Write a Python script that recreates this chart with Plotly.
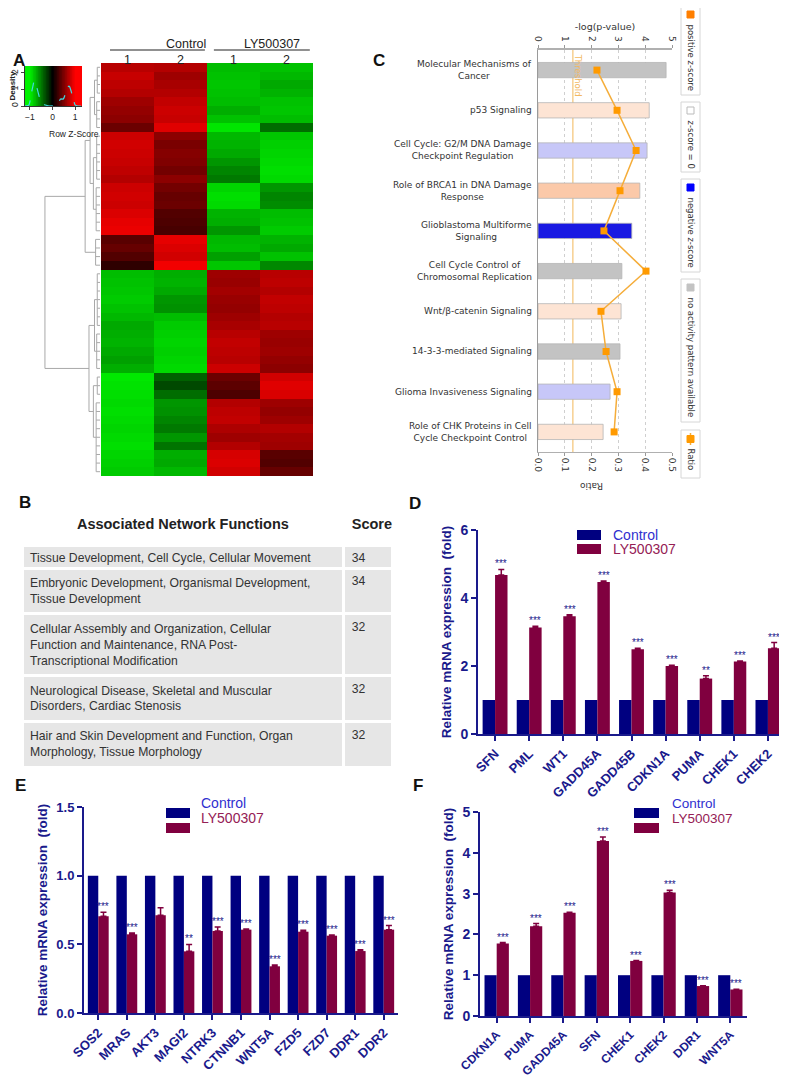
import numpy as np
import plotly.graph_objects as go

# The page body has an 8px default margin: size the figure so that it fills the window exactly
W, H = 787, 1077
OFF = 8
FW, FH = W - OFF, H - OFF
def fx(p): return (p - OFF) / FW
def fy(p): return 1 - (p - OFF) / FH

ARIAL = "Liberation Sans, Arial, sans-serif"
TAHOMA = "DejaVu Sans, Verdana, sans-serif"
NAVY = "#1a1a8c"
CTRL_C = "#000080"
LY_C = "#80003f"

# ---------------- Panel A data ----------------
sample_groups = ["Control", "LY500307"]
sample_labels = ["1", "2", "1", "2"]
heat_rows = [
    [0.72, 0.70, -0.78, -0.80], [0.78, 0.62, -0.80, -0.76], [0.74, 0.66, -0.82, -0.70],
    [0.70, 0.70, -0.80, -0.74], [0.62, 0.76, -0.78, -0.80], [0.58, 0.80, -0.72, -0.82],
    [0.55, 0.78, -0.80, -0.78], [0.42, 0.88, -0.95, -0.45], [0.80, 0.55, -0.76, -0.82],
    [0.82, 0.48, -0.74, -0.86], [0.80, 0.52, -0.70, -0.88], [0.78, 0.50, -0.62, -0.90],
    [0.75, 0.45, -0.55, -0.92], [0.70, 0.55, -0.50, -0.90], [0.80, 0.45, -0.88, -0.62],
    [0.82, 0.40, -0.92, -0.55], [0.80, 0.42, -0.90, -0.58], [0.86, 0.32, -0.74, -0.78],
    [0.90, 0.30, -0.72, -0.80], [0.92, 0.28, -0.62, -0.84], [0.35, 0.90, -0.76, -0.74],
    [0.40, 0.86, -0.78, -0.70], [0.32, 0.82, -0.66, -0.80], [0.18, 0.95, -0.82, -0.56],
    [-0.78, -0.72, 0.62, 0.72], [-0.80, -0.74, 0.60, 0.74], [-0.82, -0.70, 0.64, 0.70],
    [-0.84, -0.62, 0.60, 0.76], [-0.80, -0.60, 0.58, 0.74], [-0.76, -0.78, 0.62, 0.70],
    [-0.70, -0.84, 0.66, 0.72], [-0.72, -0.86, 0.72, 0.62], [-0.74, -0.88, 0.76, 0.60],
    [-0.70, -0.86, 0.74, 0.62], [-0.66, -0.88, 0.72, 0.58], [-0.72, -0.90, 0.80, 0.55],
    [-0.96, -0.40, 0.42, 0.82], [-0.94, -0.30, 0.36, 0.88], [-0.92, -0.45, 0.30, 0.85],
    [-0.90, -0.62, 0.70, 0.62], [-0.92, -0.60, 0.74, 0.58], [-0.90, -0.55, 0.76, 0.62],
    [-0.88, -0.50, 0.68, 0.70], [-0.90, -0.62, 0.62, 0.64], [-0.92, -0.48, 0.70, 0.62],
    [-0.88, -0.72, 0.84, 0.35], [-0.86, -0.70, 0.86, 0.32], [-0.84, -0.76, 0.82, 0.40],
]
# dendrogram tree: (merge height, children); ints are row indices
dendro_tree = (1.0, [
    (0.27, [
        (0.18, [(0.10, [(0.05, [0, 1, 2, 3]), (0.06, [4, 5, 6, 7])]),
                (0.12, [(0.06, [8, 9, 10, 11, 12, 13]), (0.07, [14, 15, 16, 17, 18, 19])])]),
        (0.08, [20, 21, 22, 23])]),
    (0.20, [
        (0.10, [(0.05, [24, 25, 26, 27, 28, 29, 30]), (0.06, [31, 32, 33, 34, 35])]),
        (0.12, [(0.05, [36, 37, 38]), (0.07, [39, 40, 41, 42, 43, 44, 45, 46, 47])])]),
])

# ---------------- Panel B data ----------------
network_functions = [
    "Tissue Development, Cell Cycle, Cellular Movement",
    "Embryonic Development, Organismal Development,\nTissue Development",
    "Cellular Assembly and Organization, Cellular\nFunction and Maintenance, RNA Post-\nTranscriptional Modification",
    "Neurological Disease, Skeletal and Muscular\nDisorders, Cardiac Stenosis",
    "Hair and Skin Development and Function, Organ\nMorphology, Tissue Morphology",
]
network_scores = [34, 34, 32, 32, 32]

# ---------------- Panel C data ----------------
pathways = [
    "Molecular Mechanisms of\nCancer", "p53 Signaling",
    "Cell Cycle: G2/M DNA Damage\nCheckpoint Regulation",
    "Role of BRCA1 in DNA Damage\nResponse", "Glioblastoma Multiforme\nSignaling",
    "Cell Cycle Control of\nChromosomal Replication", "Wnt/β-catenin Signaling",
    "14-3-3-mediated Signaling", "Glioma Invasiveness Signaling",
    "Role of CHK Proteins in Cell\nCycle Checkpoint Control",
]
neglogp = [4.78, 4.15, 4.07, 3.80, 3.50, 3.13, 3.10, 3.06, 2.69, 2.43]
ratio = [0.220, 0.295, 0.366, 0.306, 0.246, 0.403, 0.235, 0.254, 0.295, 0.284]
zscore = [None, 0.5, -0.6, 1.0, -2.45, None, 0.5, None, -0.6, 0.5]
threshold = 1.3

# ---------------- Panel D/E/F data ----------------
legend_names = ["Control", "LY500307"]
genes_d = ["SFN", "PML", "WT1", "GADD45A", "GADD45B", "CDKN1A", "PUMA", "CHEK1", "CHEK2"]
ctrl_d = [1.0] * 9
ly_d = [4.68, 3.13, 3.46, 4.47, 2.49, 2.00, 1.63, 2.13, 2.52]
err_d = [0.16, 0.04, 0.05, 0.03, 0.03, 0.02, 0.08, 0.02, 0.17]
sig_d = ["***", "***", "***", "***", "***", "***", "**", "***", "***"]

genes_e = ["SOS2", "MRAS", "AKT3", "MAGI2", "NTRK3", "CTNNB1", "WNT5A", "FZD5", "FZD7", "DDR1", "DDR2"]
ctrl_e = [1.0] * 11
ly_e = [0.704, 0.573, 0.711, 0.449, 0.597, 0.607, 0.340, 0.592, 0.563, 0.451, 0.607]
err_e = [0.03, 0.01, 0.055, 0.05, 0.03, 0.005, 0.01, 0.01, 0.005, 0.01, 0.03]
sig_e = ["***", "***", "", "**", "***", "***", "***", "***", "***", "***", "***"]

genes_f = ["CDKN1A", "PUMA", "GADD45A", "SFN", "CHEK1", "CHEK2", "DDR1", "WNT5A"]
ctrl_f = [1.0] * 8
ly_f = [1.78, 2.20, 2.53, 4.29, 1.35, 3.03, 0.734, 0.65]
err_f = [0.02, 0.065, 0.01, 0.10, 0.01, 0.05, 0.01, 0.005]
sig_f = ["***"] * 8

# =====================================================================
fig = go.Figure()
annotations = []
shapes = []

# ---- heatmap
cscale = [[0, "#00f200"], [0.5, "#000000"], [1, "#ff0000"]]
fig.add_trace(go.Heatmap(z=heat_rows, x=list(range(4)), y=list(range(len(heat_rows))),
                         colorscale=cscale, zmin=-1, zmax=1, showscale=False,
                         xaxis="x", yaxis="y", hoverinfo="skip"))

# ---- dendrogram
dx, dy = [], []
def walk(node):
    if isinstance(node, int):
        return float(node), 0.0
    h, kids = node
    pts = [walk(k) for k in kids]
    for p, ch in pts:
        dx.extend([ch, h, None]); dy.extend([p, p, None])
    ps = [p for p, _ in pts]
    dx.extend([h, h, None]); dy.extend([min(ps), max(ps), None])
    return sum(ps) / len(ps), h
walk(dendro_tree)
fig.add_trace(go.Scatter(x=dx, y=dy, mode="lines", line=dict(color="#a8a8a8", width=1),
                         xaxis="x2", yaxis="y2", showlegend=False, hoverinfo="skip"))

# ---- color key
key_x = list(np.linspace(-1.22, 1.31, 80))
fig.add_trace(go.Heatmap(z=[key_x, key_x], x=key_x, y=[0.605, 1.815], colorscale=cscale,
                         zmin=-1, zmax=1, showscale=False, xaxis="x3", yaxis="y3", hoverinfo="skip"))
vals = np.array(heat_rows).ravel()
g = np.array(key_x)
bw = 0.06
dens = np.exp(-0.5 * ((g[:, None] - vals[None, :]) / bw) ** 2).sum(1) / (len(vals) * bw * np.sqrt(2 * np.pi))
fig.add_trace(go.Scatter(x=key_x, y=dens, mode="lines", line=dict(color="#40d8e0", width=1.2, dash="dash"),
                         xaxis="x3", yaxis="y3", showlegend=False, hoverinfo="skip"))

# ---- panel B table
fig.add_trace(go.Table(
    domain=dict(x=[fx(22), fx(392)], y=[fy(766), fy(508)]),
    columnwidth=[320, 48],
    header=dict(values=["<b>Associated Network Functions</b>", "<b>Score</b>"],
                fill_color="white", line=dict(color="white", width=0),
                align=["center", "left"], height=37,
                font=dict(family=ARIAL, size=14.5, color="#222")),
    cells=dict(values=[[s.replace("\n", "<br>") for s in network_functions], network_scores],
               fill_color="#e6e6e6", line=dict(color="white", width=3),
               align="left", height=23,
               font=dict(family=ARIAL, size=12.2, color="#333")),
))

# ---- panel C
def zcolor(z):
    if z is None:
        return "#c3c3c3"
    t = min(abs(z) / 2.5, 1.0)
    base = (245, 120, 40) if z > 0 else (20, 20, 225)
    c = [round(255 * (1 - t) + b * t) for b in base]
    return "rgb(%d,%d,%d)" % tuple(c)

cidx = list(range(len(pathways)))
fig.add_trace(go.Bar(x=neglogp, y=cidx, orientation="h", width=0.38,
                     marker=dict(color=[zcolor(z) for z in zscore], line=dict(color="#b5b5b5", width=0.8)),
                     xaxis="x4", yaxis="y4", showlegend=False, hoverinfo="skip"))
fig.add_trace(go.Scatter(x=ratio, y=cidx, mode="lines+markers",
                         line=dict(color="#f5ad3a", width=1.5),
                         marker=dict(symbol="square", size=7, color="#ff9a00"),
                         xaxis="x5", yaxis="y4", showlegend=False, hoverinfo="skip"))
for i, p in enumerate(pathways):
    annotations.append(dict(x=fx(534), xref="paper", y=i, yref="y4", xanchor="right", align="center",
                            text=p.replace("\n", "<br>"), showarrow=False,
                            font=dict(family=TAHOMA, size=9, color="#333")))
shapes.append(dict(type="line", xref="x4", yref="y4 domain", x0=threshold, x1=threshold, y0=0, y1=1,
                   line=dict(color="#f7cf90", width=1.5), layer="below"))
annotations.append(dict(x=threshold, xref="x4", xshift=5, y=fy(52), yref="paper", yanchor="top",
                        text="Threshold", textangle=90, showarrow=False,
                        font=dict(family=TAHOMA, size=8.5, color="#f2b860")))
annotations.append(dict(x=fx(605), y=fy(486), xref="paper", yref="paper", text="Ratio", textangle=180,
                        showarrow=False, font=dict(family=TAHOMA, size=9, color="#333")))
# C legend boxes
leg_items = [(6, 95, "#ff7f00", "positive z-score"), (102, 172, "#ffffff", "z-score = 0"),
             (179, 272, "#0000ff", "negative z-score"), (279, 422, "#c3c3c3", "no activity pattern available"),
             (430, 478, None, "Ratio")]
for y0, y1, col, txt in leg_items:
    shapes.append(dict(type="rect", xref="paper", yref="paper", x0=fx(681), x1=fx(700), y0=fy(y1), y1=fy(y0),
                       line=dict(color="#d6d6d6", width=1), fillcolor="white"))
    if col is not None:
        shapes.append(dict(type="rect", xref="paper", yref="paper", x0=fx(687), x1=fx(694), y0=fy(y0 + 12),
                           y1=fy(y0 + 5), line=dict(color="#bbbbbb" if col == "#ffffff" else col, width=1),
                           fillcolor=col))
    else:
        shapes.append(dict(type="line", xref="paper", yref="paper", x0=fx(690.5), x1=fx(690.5), y0=fy(y0 + 15),
                           y1=fy(y0 + 3), line=dict(color="#f5ad3a", width=1.5)))
        shapes.append(dict(type="rect", xref="paper", yref="paper", x0=fx(687), x1=fx(694), y0=fy(y0 + 12.5),
                           y1=fy(y0 + 5.5), line=dict(color="#ff9a00", width=1), fillcolor="#ff9a00"))
    annotations.append(dict(x=fx(690.5), y=fy(y0 + 16), xref="paper", yref="paper", yanchor="top",
                            xanchor="center", text=txt, textangle=90, showarrow=False,
                            font=dict(family=TAHOMA, size=8.5, color="#333")))

# ---- panels D/E/F
BARGAP = 0.27
panels = [
    ("x6", "y6", genes_d, ctrl_d, ly_d, err_d, sig_d),
    ("x7", "y7", genes_e, ctrl_e, ly_e, err_e, sig_e),
    ("x8", "y8", genes_f, ctrl_f, ly_f, err_f, sig_f),
]
for xa, ya, genes, ctrl, ly, err, sig in panels:
    fig.add_trace(go.Bar(x=genes, y=ctrl, name=legend_names[0],
                         marker=dict(color=CTRL_C, line=dict(width=0)), xaxis=xa, yaxis=ya,
                         showlegend=False, hoverinfo="skip"))
    fig.add_trace(go.Bar(x=genes, y=ly, name=legend_names[1],
                         marker=dict(color=LY_C, line=dict(width=0)), xaxis=xa, yaxis=ya,
                         showlegend=False,
                         error_y=dict(type="data", array=err, arrayminus=[0] * len(err), symmetric=False,
                                      color=LY_C, thickness=1.5, width=3),
                         hoverinfo="skip"))

dom = {"x6": (478, 785), "x7": (84, 398), "x8": (480, 747)}
for xa, ya, genes, ctrl, ly, err, sig in panels:
    catw = (dom[xa][1] - dom[xa][0]) / len(genes)
    shift = catw * (1 - BARGAP) / 4
    for gname, v, e, s in zip(genes, ly, err, sig):
        if s:
            annotations.append(dict(x=gname, y=v + e, xref=xa, yref=ya, xshift=shift, yanchor="bottom",
                                    yshift=-2, text=s, showarrow=False,
                                    font=dict(family=ARIAL, size=10, color=NAVY)))

# custom legends for D/E/F (box positions in px: x0, x1, row1 top, row2 top, text x, font size)
leg_cols = [CTRL_C, LY_C]
leg_txt_cols = ["#2f2fcf", "#952055"]
for bx0, bx1, r1, r2, tx, fs in [(577, 601, 530, 544, 611, 14), (166, 190, 808, 823, 199, 14),
                                 (634, 659, 808, 823, 670, 13.5)]:
    for k, rt in enumerate([r1, r2]):
        shapes.append(dict(type="rect", xref="paper", yref="paper", x0=fx(bx0), x1=fx(bx1),
                           y0=fy(rt + 10), y1=fy(rt), line=dict(width=0), fillcolor=leg_cols[k]))
        annotations.append(dict(x=fx(tx), y=fy(rt + 5), xref="paper", yref="paper", xanchor="left",
                                text=legend_names[k], showarrow=False,
                                font=dict(family=ARIAL, size=fs, color=leg_txt_cols[k])))

# ---- panel labels and heatmap headers
for lab, x, y in [("A", 11, 49), ("B", 17, 502), ("C", 379, 49), ("D", 415, 503), ("E", 13, 797), ("F", 418, 797)]:
    annotations.append(dict(x=fx(x), y=fy(y), xref="paper", yref="paper", text="<b>%s</b>" % lab,
                            showarrow=False, font=dict(family=ARIAL, size=17, color="#111")))
annotations.append(dict(x=fx(165), y=fy(36), xref="paper", yref="paper", text=sample_groups[0], showarrow=False,
                        borderpad=0, font=dict(family=ARIAL, size=12.5, color="#222")))
annotations.append(dict(x=fx(272), y=fy(36), xref="paper", yref="paper", text=sample_groups[1], showarrow=False,
                        borderpad=0, font=dict(family=ARIAL, size=12.5, color="#222")))
shapes.append(dict(type="line", xref="x", yref="paper", x0=-0.33, x1=1.46, y0=fy(50), y1=fy(50),
                   line=dict(color="#222", width=1.2)))
shapes.append(dict(type="line", xref="x", yref="paper", x0=1.63, x1=3.44, y0=fy(50), y1=fy(50),
                   line=dict(color="#222", width=1.2)))
annotations.append(dict(x=fx(47), y=fy(127), xref="paper", yref="paper", text="Row Z-Score", showarrow=False,
                        font=dict(family=ARIAL, size=8.5, color="#222")))

def bar_x(dx_, dy_, fs=13):
    return dict(domain=[fx(dx_[0]), fx(dx_[1])], anchor=dy_, type="category", showline=True, linecolor=NAVY,
                linewidth=2, ticks="outside", ticklen=5, tickwidth=2, tickcolor=NAVY, tickangle=-45,
                automargin=False,
                tickfont=dict(family=ARIAL, size=fs, color=NAVY, weight="bold"), showgrid=False, zeroline=False)

def bar_y(dom_, anchor, rng, dtick, fmt=None, tsize=14):
    d = dict(domain=[fy(dom_[1]), fy(dom_[0])], anchor=anchor, range=rng, dtick=dtick, showline=True,
             linecolor=NAVY, linewidth=2, ticks="outside", ticklen=5, tickwidth=2, tickcolor=NAVY,
             automargin=False,
             tickfont=dict(family=ARIAL, size=tsize, color=NAVY, weight="bold"), showgrid=False, zeroline=False,
             title=dict(text="Relative mRNA expression\u00a0\u00a0(fold)", standoff=6,
                        font=dict(family=ARIAL, size=13.5, color=NAVY, weight="bold")))
    if fmt:
        d["tickformat"] = fmt
    return d

fig.update_layout(
    width=FW, height=FH, margin=dict(l=0, r=0, t=0, b=0, autoexpand=False),
    paper_bgcolor="white", plot_bgcolor="white",
    barmode="group", bargap=BARGAP, bargroupgap=0, showlegend=False,
    xaxis=dict(domain=[fx(101), fx(313)], range=[-0.5, 3.5], anchor="y", side="top", tickvals=[0, 1, 2, 3],
               ticktext=sample_labels, ticks="", showgrid=False, zeroline=False, showline=False, automargin=False,
               ticklabelstandoff=-4, tickfont=dict(family=ARIAL, size=12.5, color="#222")),
    yaxis=dict(domain=[fy(476), fy(63)], range=[len(heat_rows) - 0.5, -0.5], anchor="x", visible=False,
               automargin=False),
    xaxis2=dict(domain=[fx(40), fx(100)], range=[1.09, 0], anchor="y2", visible=False, automargin=False),
    yaxis2=dict(domain=[fy(476), fy(63)], range=[len(heat_rows) - 0.5, -0.5], anchor="x2", visible=False,
                automargin=False),
    xaxis3=dict(domain=[fx(25), fx(82)], range=[-1.22, 1.31], anchor="y3", tickvals=[-1, 0, 1], ticks="outside",
                ticklen=3, showline=True, linecolor="#333", linewidth=1, showgrid=False, zeroline=False,
                automargin=False, tickfont=dict(family=ARIAL, size=8.5, color="#222")),
    yaxis3=dict(domain=[fy(106), fy(66)], range=[0, 2.42], anchor="x3", tickvals=[0, 1, 2], ticks="outside",
                ticklen=3, tickangle=-90, showline=True, linecolor="#333", linewidth=1,
                showgrid=False, zeroline=False, automargin=False, tickfont=dict(family=ARIAL, size=8.5, color="#222"),
                title=dict(text="<b>Density</b>", standoff=3, font=dict(family=ARIAL, size=8, color="#222"))),
    xaxis4=dict(domain=[fx(538), fx(672)], range=[0, 5], anchor="y4", side="top", tickvals=[0, 1, 2, 3, 4, 5],
                tickangle=90, showgrid=True, gridcolor="#cfcfcf", griddash="dot", gridwidth=1, zeroline=False,
                showline=True, linecolor="#b0b0b0", linewidth=2, ticks="outside", ticklen=3, tickcolor="#999",
                automargin=False, tickfont=dict(family=TAHOMA, size=9, color="#333"),
                title=dict(text="-log(p-value)", standoff=4, font=dict(family=TAHOMA, size=9.5, color="#333"))),
    xaxis5=dict(overlaying="x4", anchor="y4", side="bottom", range=[0, 0.5],
                tickvals=[0, 0.1, 0.2, 0.3, 0.4, 0.5], ticktext=["0.0", "0.1", "0.2", "0.3", "0.4", "0.5"],
                tickangle=90, showgrid=False, zeroline=False, showline=True, linecolor="#b0b0b0", linewidth=1,
                ticks="outside", ticklen=3, tickcolor="#999", automargin=False,
                tickfont=dict(family=TAHOMA, size=9, color="#333")),
    yaxis4=dict(domain=[fy(452), fy(50)], range=[len(pathways) - 0.5, -0.5], anchor="x4", showticklabels=False,
                ticks="", showgrid=False, zeroline=False, showline=True, linecolor="#9a9a9a", linewidth=1,
                automargin=False),
    xaxis6=bar_x((478, 785), "y6"),
    yaxis6=bar_y((530, 734), "x6", [0, 6], 2),
    xaxis7=bar_x((84, 398), "y7"),
    yaxis7=bar_y((807, 1013), "x7", [0, 1.5], 0.5, ".1f", 13),
    xaxis8=bar_x((480, 747), "y8", 12),
    yaxis8=bar_y((812, 1016), "x8", [0, 5], 1),
    annotations=annotations, shapes=shapes,
)

fig.write_html("out.html")
